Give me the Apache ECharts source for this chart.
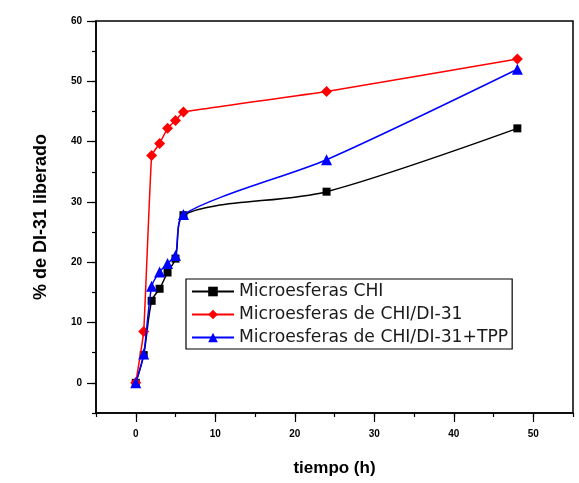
<!DOCTYPE html>
<html>
<head>
<meta charset="utf-8">
<script src="https://cdn.jsdelivr.net/npm/echarts@6/dist/echarts.min.js"></script>
<style>
html,body{margin:0;padding:0;background:#fff;}
#chart{width:579px;height:483px;}
</style>
</head>
<body>
<div id="chart"></div>
<script>
var times = [0, 1, 2, 3, 4, 5, 6, 24, 48];
var chiValues = [0, 4.6, 13.6, 15.6, 18.3, 20.6, 27.8, 31.7, 42.2];
var chiDiValues = [0, 8.5, 37.7, 39.7, 42.2, 43.5, 44.9, 48.3, 53.7];
var chiDiTppValues = [0, 4.8, 16.0, 18.4, 19.8, 21.1, 27.9, 37.0, 52.0];
var seriesNames = ['Microesferas CHI', 'Microesferas de CHI/DI-31', 'Microesferas de CHI/DI-31+TPP'];
var xTickValues = [0, 10, 20, 30, 40, 50];
var yTickValues = [0, 10, 20, 30, 40, 50, 60];

function pairs(xs, ys) { return xs.map(function (x, i) { return [x, ys[i]]; }); }

var chart = echarts.init(document.getElementById('chart'), null, {renderer: 'canvas'});
var labelFont = {fontFamily: 'Liberation Sans', fontWeight: 'bold', fontSize: 10, color: '#000'};
var lineStyleAxis = {color: '#000', width: 1.5};
chart.setOption({
  animation: false,
  backgroundColor: '#fff',
  grid: {left: 96, right: 6, top: 21, bottom: 70, show: true, borderColor: '#000', borderWidth: 1.5, backgroundColor: 'transparent'},
  legend: {
    left: 186, top: 279, orient: 'vertical',
    backgroundColor: '#fff', borderColor: '#000', borderWidth: 1.2,
    padding: [4, 4, 3, 5], itemWidth: 42, itemHeight: 12, itemGap: 6,
    textStyle: {fontFamily: 'DejaVu Sans', fontSize: 17.2, color: '#1a1a1a'},
    data: seriesNames
  },
  xAxis: [{
    type: 'value', min: -5, max: 55, interval: 5, position: 'bottom',
    name: 'tiempo (h)', nameLocation: 'middle', nameGap: 47,
    nameTextStyle: {fontFamily: 'Liberation Sans', fontWeight: 'bold', fontSize: 17, color: '#000'},
    axisLine: {show: true, onZero: false, lineStyle: lineStyleAxis},
    axisTick: {show: true, inside: false, length: 4, lineStyle: {color: '#000', width: 1.2}},
    splitLine: {show: false},
    axisLabel: Object.assign({margin: 16, customValues: xTickValues}, labelFont)
  }, {
    type: 'value', min: -5, max: 55, position: 'bottom', gridIndex: 0,
    axisLine: {show: false, onZero: false},
    axisTick: {show: true, inside: false, length: 9, customValues: xTickValues, lineStyle: {color: '#000', width: 1.2}},
    axisLabel: {show: false},
    splitLine: {show: false}
  }],
  yAxis: [{
    type: 'value', min: -5, max: 60, interval: 5, position: 'left',
    name: '% de DI-31 liberado', nameLocation: 'middle', nameGap: 46,
    nameTextStyle: {fontFamily: 'Liberation Sans', fontWeight: 'bold', fontSize: 18, color: '#000'},
    axisLine: {show: true, onZero: false, lineStyle: lineStyleAxis},
    axisTick: {show: true, inside: false, length: 4, lineStyle: {color: '#000', width: 1.2}},
    splitLine: {show: false},
    axisLabel: Object.assign({margin: 14, customValues: yTickValues}, labelFont)
  }, {
    type: 'value', min: -5, max: 60, position: 'left', gridIndex: 0,
    axisLine: {show: false, onZero: false},
    axisTick: {show: true, inside: false, length: 9, customValues: yTickValues, lineStyle: {color: '#000', width: 1.2}},
    axisLabel: {show: false},
    splitLine: {show: false}
  }],
  series: [
    {name: seriesNames[0], type: 'line', data: pairs(times, chiValues), smooth: 0.3,
     symbol: 'rect', symbolSize: 8, z: 3,
     lineStyle: {color: '#000', width: 1.5}, itemStyle: {color: '#000'}},
    {name: seriesNames[1], type: 'line', data: pairs(times, chiDiValues), smooth: 0.1,
     symbol: 'diamond', symbolSize: 11, z: 4,
     lineStyle: {color: '#ff0000', width: 1.5}, itemStyle: {color: '#ff0000'}},
    {name: seriesNames[2], type: 'line', data: pairs(times, chiDiTppValues), smooth: 0.25,
     symbol: 'triangle', symbolSize: 11, z: 5,
     lineStyle: {color: '#0000ff', width: 1.5}, itemStyle: {color: '#0000ff'}}
  ]
});
</script>
</body>
</html>
